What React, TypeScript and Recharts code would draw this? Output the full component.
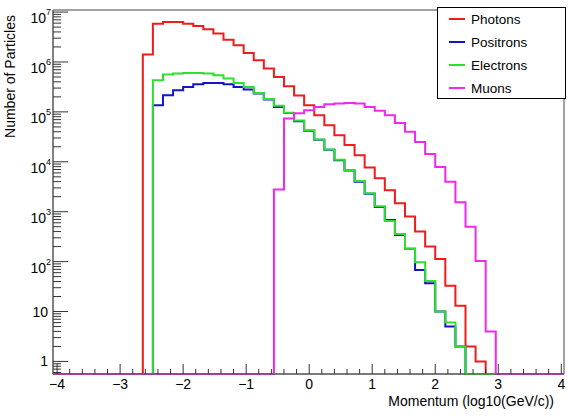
import { ComposedChart, Line, XAxis, YAxis, Legend, ReferenceArea } from "recharts"

// histogram binning (lower edge of first filled bin, bin width)
const BIN_START = -2.64
const BIN_WIDTH = 0.16

// counts per bin (0 = empty bin)
const PHOTONS = [
  1410000, 5860000, 6300000, 6300000, 5860000, 5250000, 4500000, 3700000, 2800000,
  2160000, 1510000, 1080000, 740000, 500000, 327000, 213000, 136000, 86000, 54000,
  34000, 21600, 13600, 7700, 4700, 2700, 1470, 800, 400, 200, 113, 33, 13, 2, 1, 0,
]
const POSITRONS = [
  0, 136000, 216000, 270000, 316000, 358000, 380000, 380000, 358000, 316000, 280000,
  233000, 177000, 126000, 95000, 65000, 42000, 27500, 17500, 10700, 6700, 4000, 2300,
  1240, 680, 342, 180, 68, 37, 10, 5, 2, 0, 0, 0,
]
const ELECTRONS = [
  0, 430000, 560000, 586000, 600000, 600000, 590000, 540000, 465000, 380000, 316000,
  240000, 181000, 133000, 96000, 67000, 43000, 28000, 17700, 11000, 6800, 4100, 2330,
  1280, 650, 358, 180, 97, 41, 10, 6, 2, 0, 0, 0,
]
const MUONS = [
  0, 0, 0, 0, 0, 0, 0, 0, 0, 0, 0, 0, 0, 2800, 74000, 94000, 108000, 126000, 143000,
  147000, 151000, 147000, 126000, 105000, 86000, 60000, 40000, 25000, 14300, 7900,
  4000, 1550, 500, 103, 4,
]

const SERIES = [
  { key: "photons", name: "Photons", color: "#ee1c1c", values: PHOTONS },
  { key: "positrons", name: "Positrons", color: "#1414c8", values: POSITRONS },
  { key: "electrons", name: "Electrons", color: "#2ee02e", values: ELECTRONS },
  { key: "muons", name: "Muons", color: "#ee28ee", values: MUONS },
]

const X_MIN = -4.065
const X_MAX = 4.043
const Y_MIN = 0.56
const Y_MAX = 1.1e7

const X_MAJOR = [-4, -3, -2, -1, 0, 1, 2, 3, 4]
const X_LABELS = ["\u22124", "\u22123", "\u22122", "\u22121", "0", "1", "2", "3", "4"]
const Y_MAJOR = [1, 10, 100, 1e3, 1e4, 1e5, 1e6, 1e7]
const Y_LABELS: [string, string][] = [
  ["1", ""], ["10", ""], ["10", "2"], ["10", "3"], ["10", "4"], ["10", "5"], ["10", "6"], ["10", "7"],
]

const FONT = "'Liberation Sans', Arial, Helvetica, sans-serif"

// minor ticks every 0.2 on x, 2..9 per decade on y
const xTicks: number[] = []
X_MAJOR.forEach((m, i) => {
  if (i === X_MAJOR.length - 1) xTicks.push(m)
  else for (let j = 0; j < 5; j++) xTicks.push(+(m + j * 0.2).toFixed(2))
})
const yTicks: number[] = []
for (let d = -1; d <= 7; d++) {
  for (let m = 1; m <= 9; m++) {
    const v = +(m * Math.pow(10, d)).toPrecision(3)
    if (v >= Y_MIN && v <= Y_MAX) yTicks.push(v)
  }
}

const lift = (v: number) => (v > 0 ? v : Y_MIN)
const emptyRow = (x: number) => {
  const row: Record<string, number> = { x }
  SERIES.forEach((s) => (row[s.key] = Y_MIN))
  return row
}

const data: Record<string, number>[] = [emptyRow(X_MIN)]
for (let i = 0; i < PHOTONS.length; i++) {
  const row: Record<string, number> = { x: +(BIN_START + i * BIN_WIDTH).toFixed(2) }
  SERIES.forEach((s) => (row[s.key] = lift(s.values[i])))
  data.push(row)
}
data.push(emptyRow(+(BIN_START + PHOTONS.length * BIN_WIDTH).toFixed(2)))
data.push(emptyRow(X_MAX))

function XTick(props: any) {
  const { x, y, payload } = props
  const idx = X_MAJOR.findIndex((m) => Math.abs(m - payload.value) < 1e-6)
  const len = idx >= 0 ? 10 : 5
  return (
    <g>
      <line x1={x} x2={x} y1={y} y2={y - len} stroke="#333" strokeWidth={1} />
      {idx >= 0 && (
        <text x={x} y={y + 15} textAnchor="middle" fontSize={14} fontFamily={FONT} fill="#000">
          {X_LABELS[idx]}
        </text>
      )}
    </g>
  )
}

function YTick(props: any) {
  const { x, y, payload } = props
  const idx = Y_MAJOR.findIndex((m) => Math.abs(m - payload.value) / m < 1e-6)
  const len = idx >= 0 ? 15 : 8
  let label = null
  if (idx >= 0) {
    const [base, exp] = Y_LABELS[idx]
    label = exp ? (
      <text x={x - 2} y={y + 11} textAnchor="end" fontSize={14} fontFamily={FONT} fill="#000">
        {base}
        <tspan fontSize={9} dy={-8}>{exp}</tspan>
      </text>
    ) : (
      <text x={x - 5} y={y + 5} textAnchor="end" fontSize={14} fontFamily={FONT} fill="#000">
        {base}
      </text>
    )
  }
  return (
    <g>
      <line x1={x} x2={x + len} y1={y} y2={y} stroke="#333" strokeWidth={1} />
      {label}
    </g>
  )
}

// legend keeps the drawing order of the series
function LegendBox() {
  return (
    <svg width={130} height={93} style={{ display: "block" }}>
      <rect x={0.5} y={0.5} width={128} height={91} fill="#fff" stroke="#000" strokeWidth={1} />
      {SERIES.map((s, i) => {
        const cy = 12 + i * 23
        return (
          <g key={s.key}>
            <line x1={12} x2={28} y1={cy} y2={cy} stroke={s.color} strokeWidth={2} />
            <text x={34} y={cy + 5} fontSize={13.5} fontFamily={FONT} fill="#000">
              {s.name}
            </text>
          </g>
        )
      })}
    </svg>
  )
}

export default function App() {
  return (
    <div style={{ position: "absolute", left: 0, top: 0, fontFamily: FONT }}>
      <ComposedChart
        width={568}
        height={416}
        data={data}
        margin={{ top: 10, right: 4, bottom: 0, left: 0 }}
      >
        <XAxis
          dataKey="x"
          type="number"
          domain={[X_MIN, X_MAX]}
          ticks={xTicks}
          interval={0}
          tickSize={0}
          tickMargin={0}
          tick={<XTick />}
          height={42}
          axisLine={{ stroke: "#555", strokeWidth: 1 }}
          label={{
            content: () => (
              <text x={554} y={405.5} textAnchor="end" fontSize={14} fontFamily={FONT} fill="#000">
                Momentum (log10(GeV/c))
              </text>
            ),
          }}
        />
        <YAxis
          type="number"
          scale="log"
          domain={[Y_MIN, Y_MAX]}
          ticks={yTicks}
          interval={0}
          tickSize={0}
          tickMargin={0}
          tick={<YTick />}
          width={53}
          axisLine={{ stroke: "#777", strokeWidth: 1.5 }}
          label={{
            content: () => (
              <text
                x={15}
                y={15}
                textAnchor="end"
                transform="rotate(-90, 15, 15)"
                fontSize={14}
                fontFamily={FONT}
                fill="#000"
              >
                Number of Particles
              </text>
            ),
          }}
        />
        <ReferenceArea
          x1={X_MIN}
          x2={X_MAX}
          y1={Y_MIN}
          y2={Y_MAX}
          fill="none"
          fillOpacity={0}
          stroke="#444"
          strokeWidth={1}
        />
        {SERIES.map((s) => (
          <Line
            key={s.key}
            type="stepAfter"
            dataKey={s.key}
            name={s.name}
            stroke={s.color}
            strokeWidth={2}
            dot={false}
            activeDot={false}
            isAnimationActive={false}
          />
        ))}
        <Legend
          layout="vertical"
          align="center"
          verticalAlign="middle"
          wrapperStyle={{ left: 437, top: 7, width: 130, height: 93 }}
          content={<LegendBox />}
        />
      </ComposedChart>
    </div>
  )
}
